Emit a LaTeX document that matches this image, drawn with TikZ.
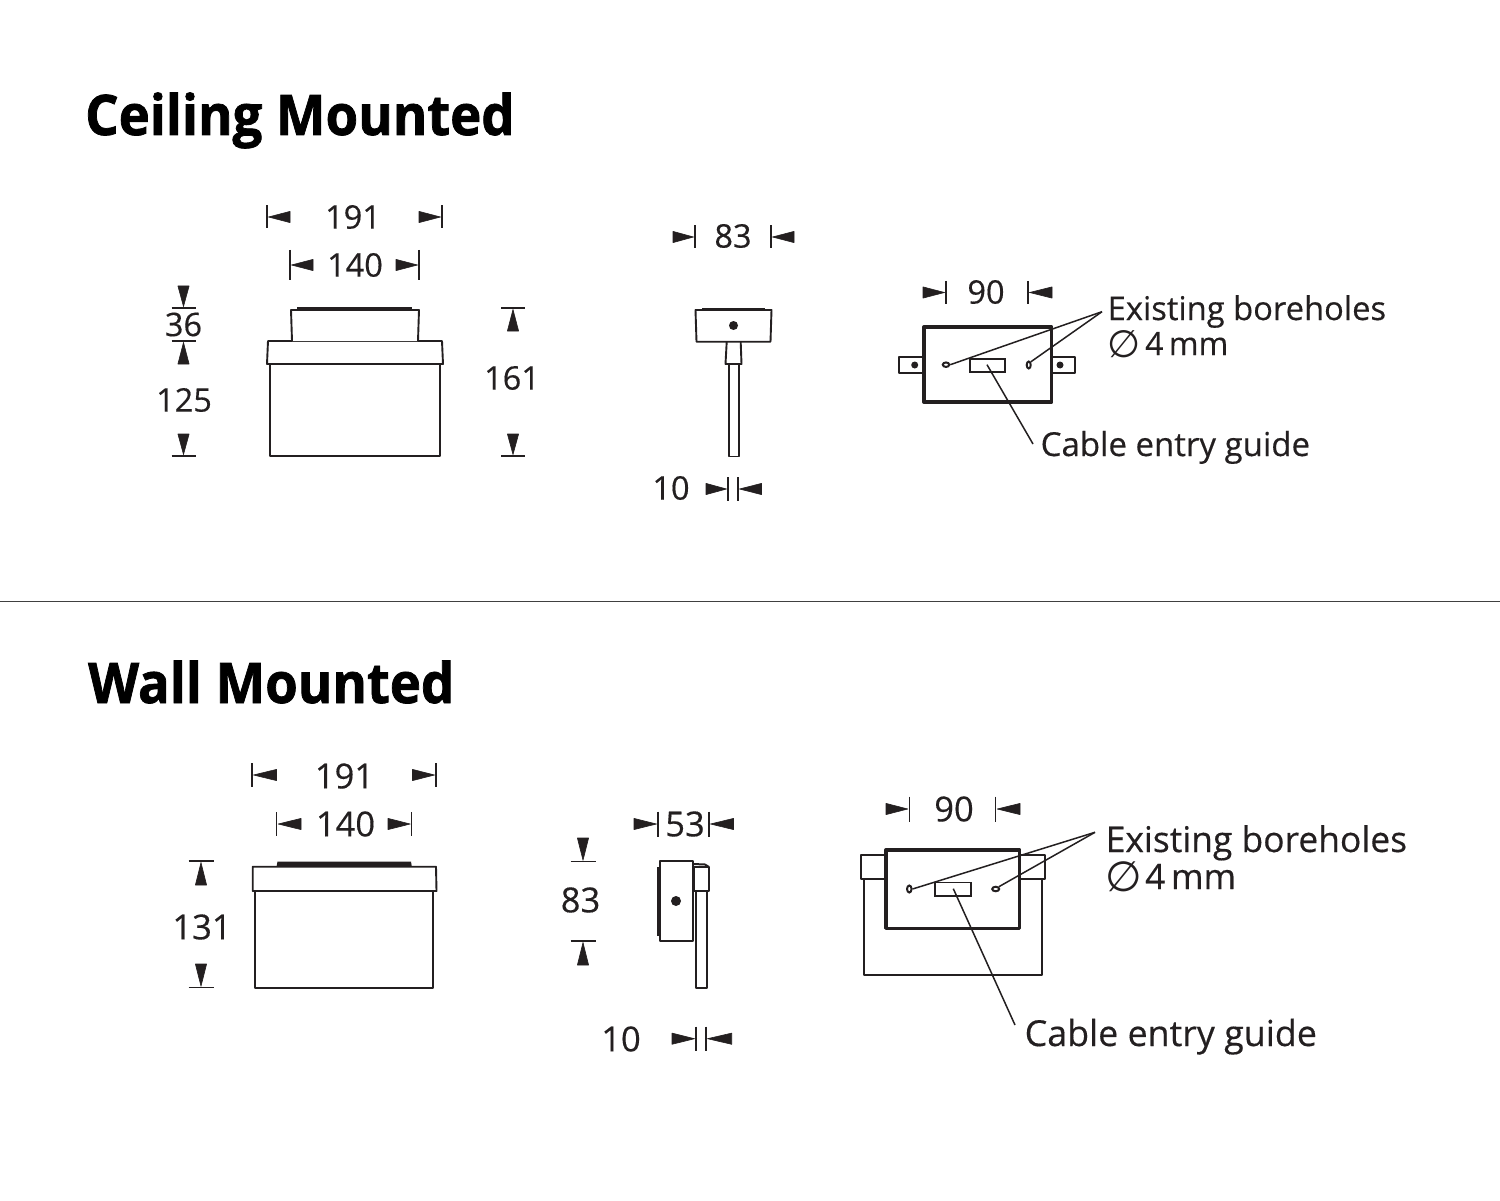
\documentclass[tikz,border=0pt]{standalone}
\usepackage{fontspec}
\usetikzlibrary{shapes.geometric}
\setmainfont{Open Sans}
\newfontfamily\symfont{DejaVu Sans}
\newfontfamily\labelfont[FakeBold=0.35]{Open Sans}
\newfontfamily\headfont[FakeBold=1.3,FakeStretch=0.94]{Open Sans}
\definecolor{ink}{HTML}{231F20}
\tikzset{
  x=1pt,y=-1pt,
  outline/.style={draw=ink,line width=1.9pt,line join=round,fill=white},
  heavy/.style={draw=ink,line width=3.4pt,line join=round,fill=white},
  tickline/.style={draw=ink,line width=1.5pt},
  leader/.style={draw=ink,line width=1.5pt},
  dimtip/.style={fill=ink,draw=ink,line width=0.6pt,line join=round},
  dimlabel/.style={text=ink,inner sep=0pt,font=\labelfont\fontsize{#1}{#1}\selectfont},
  note/.style={text=ink,inner sep=0pt,anchor=base west,font=\labelfont\fontsize{#1}{#1}\selectfont},
  symbol/.style={text=ink,inner sep=0pt,font=\symfont\fontsize{#1}{#1}\selectfont},
  heading/.style={text=black,inner sep=0pt,anchor=base west,font=\headfont\fontsize{56}{56}\selectfont\bfseries},
  blackdot/.style={circle,fill=ink,inner sep=0pt,minimum size=#1},
  hole/.style={ellipse,draw=ink,line width=2pt,inner sep=0pt,fill=white},
}
% name, xTick, xTail, y, half-height: tick line and solid triangle
\newcommand{\hdim}[5]{%
  \coordinate (#1a) at (#2,#4-#5); \coordinate (#1b) at (#2,#4+#5);
  \draw[tickline] (#1a) -- (#1b);
  \pgfmathsetmacro{\tipx}{#2+(#3>#2?1.5:-1.5)}
  \filldraw[dimtip] (\tipx,#4) -- (#3,#4-5.6) -- (#3,#4+5.6) -- cycle;}
% name, yTick, yTail, x, half-width
\newcommand{\vdim}[5]{%
  \coordinate (#1a) at (#4-#5,#2); \coordinate (#1b) at (#4+#5,#2);
  \draw[tickline] (#1a) -- (#1b);
  \pgfmathsetmacro{\tipy}{#2+(#3>#2?1.5:-1.5)}
  \filldraw[dimtip] (#4,\tipy) -- (#4-5.6,#3) -- (#4+5.6,#3) -- cycle;}
\begin{document}
\begin{tikzpicture}
\useasboundingbox (0,0) rectangle (1500,1201);
\fill[white] (0,0) rectangle (1500,1201);

% headings and separator
\node[heading] (t1) at (85,135) {Ceiling Mounted};
\node[heading] (t2) at (88,703) {Wall Mounted};
\coordinate (sepL) at (0,601.5); \coordinate (sepR) at (1500,601.5);
\draw[draw=black!75,line width=1.7pt] (sepL) -- (sepR);

% ---------- ceiling, front
\draw[outline] (270,364) rectangle (439.7,456);
\draw[outline] (268,341) -- (442,341) -- (443,364) -- (267,364) -- cycle;
\draw[outline] (292,341) -- (291,310) -- (419,310) -- (418,341);
\draw[draw=ink,line width=2.4pt] (297,308.5) -- (412,308.5);
\hdim{a}{267}{290}{217}{11.5}
\hdim{b}{442}{419}{217}{11.5}
\node[dimlabel=32.5] (l191a) at (353,217) {191};
\hdim{c}{290}{313}{265}{15}
\hdim{d}{419}{396}{265}{15}
\node[dimlabel=32.5] (l140a) at (355,265) {140};
\vdim{e}{308}{286}{183.5}{12}
\vdim{f}{341}{364}{183.5}{12}
\node[dimlabel=32.5] (l36) at (183.5,324.5) {36};
\node[dimlabel=32.5] (l125) at (184,400) {125};
\vdim{g}{456}{434}{183.5}{12}
\vdim{h}{308}{331}{513}{12}
\vdim{i}{456}{434}{513}{12}
\node[dimlabel=32.5] (l161) at (512,378) {161};

% ---------- ceiling, side
\draw[outline] (728.7,364) rectangle (738.7,456.5);
\draw[outline] (726.7,342) -- (725.5,364) -- (741.5,364) -- (740.7,342);
\draw[outline] (696.5,341.7) -- (695.5,310) -- (771.5,310) -- (770.5,341.7) -- cycle;
\draw[draw=ink,line width=2.2pt] (702,309) -- (765,309);
\node[blackdot=9pt] (d1) at (733.5,325.5) {};
\hdim{j}{695}{673}{237}{11.5}
\hdim{k}{771}{794}{237}{11.5}
\node[dimlabel=32.5] (l83a) at (733,236) {83};
\hdim{m}{728}{706}{489}{12}
\hdim{n}{738}{761.5}{489}{12}
\node[dimlabel=32.5] (l10a) at (671,488) {10};

% ---------- ceiling, back
\draw[outline] (899,357) rectangle (924,373);
\draw[outline] (1052,357) rectangle (1075,373);
\draw[heavy] (924,327) rectangle (1051.7,402);
\node[blackdot=7pt] (d2) at (914.7,365) {};
\node[blackdot=7pt] (d3) at (1060,365) {};
\draw[draw=ink,line width=1.6pt] (970,358.7) rectangle (1004.7,371.7);
\node[hole,minimum width=6.5pt,minimum height=4.5pt] (h1) at (946,364.7) {};
\node[hole,minimum width=4pt,minimum height=7pt] (h2) at (1028.7,365) {};
\coordinate (apex1) at (1102,311.7);
\draw[leader] (apex1) -- (h1.east);
\draw[leader] (apex1) -- (h2.north east);
\coordinate (slot1) at (987,364.7); \coordinate (end1) at (1033,444);
\draw[leader] (slot1) -- (end1);
\hdim{o}{946}{923}{292.5}{11.5}
\hdim{p}{1028}{1052}{292.5}{11.5}
\node[dimlabel=32.5] (l90a) at (986,292) {90};
\node[note=32.7] (n1) at (1107.5,320) {Existing boreholes};
\node[symbol=38] (o1) at (1124.5,344) {∅};
\node[note=32] (n2) at (1145,355) {4\,mm};
\node[note=33] (n3) at (1040.5,456) {Cable entry guide};

% ---------- wall, front
\draw[outline] (255.3,891) rectangle (433.3,988);
\fill[ink] (276.7,866) -- (277.5,861.5) -- (411,861.5) -- (411.7,866) -- cycle;
\draw[outline] (252.7,866.7) -- (436,866.7) -- (436.5,891) -- (252.7,891) -- cycle;
\hdim{q}{252}{276.5}{775}{12}
\hdim{r}{436}{412.5}{775}{12}
\node[dimlabel=34.5] (l191b) at (344.5,776) {191};
\hdim{s}{276.7}{301}{824}{12}
\hdim{u}{411.7}{388}{824}{12}
\node[dimlabel=34.5] (l140b) at (345.5,824) {140};
\vdim{v}{861}{885}{201}{12.5}
\vdim{w}{987.7}{964}{201}{12.5}
\node[dimlabel=34.5] (l131) at (202,927) {131};

% ---------- wall, side
\draw[outline] (696,890.7) rectangle (706.7,988);
\draw[outline] (694,866.7) rectangle (709,890.7);
\draw[draw=ink,line width=2pt] (693,864) -- (705,864.5) -- (709,867);
\draw[outline] (660,861) rectangle (693,941);
\draw[draw=ink,line width=1.4pt] (660,868) -- (658,868) -- (658,935) -- (660,935);
\node[blackdot=10pt] (d4) at (676,901) {};
\hdim{x}{658}{634}{824}{12.5}
\hdim{y}{709}{733.5}{824}{12.5}
\node[dimlabel=34.5] (l53) at (685,824) {53};
\vdim{z}{861.7}{838}{583}{12.5}
\vdim{aa}{941}{965}{583}{12.5}
\node[dimlabel=34.5] (l83b) at (580.5,900) {83};
\hdim{ab}{696}{672}{1038.7}{12}
\hdim{ac}{706}{731.7}{1038.7}{12}
\node[dimlabel=34.5] (l10b) at (621,1039) {10};

% ---------- wall, back
\draw[outline] (863.7,879) rectangle (1042,975.3);
\draw[outline] (860.7,855) rectangle (886,879);
\draw[outline] (1020,855) rectangle (1045,879);
\draw[heavy] (886,850) rectangle (1019.7,928.3);
\draw[draw=ink,line width=1.4pt] (949,851.5) -- (957,851.5);
\draw[draw=ink,line width=1.6pt] (934.7,882.3) rectangle (971,895.7);
\node[hole,minimum width=4.5pt,minimum height=7pt] (h3) at (909.3,889) {};
\node[hole,minimum width=7pt,minimum height=4.5pt] (h4) at (995.7,889) {};
\coordinate (apex2) at (1095,832.3);
\draw[leader] (apex2) -- (h3.east);
\draw[leader] (apex2) -- (h4.north east);
\coordinate (slot2) at (953.3,888.7); \coordinate (end2) at (1015,1025);
\draw[leader] (slot2) -- (end2);
\hdim{ad}{909.3}{886}{809}{12.5}
\hdim{ae}{995.7}{1020}{809}{12.5}
\node[dimlabel=34.5] (l90b) at (954,809) {90};
\node[note=35.4] (n4) at (1105.5,852) {Existing boreholes};
\node[symbol=42] (o2) at (1124,877) {∅};
\node[note=35] (n5) at (1145,889) {4\,mm};
\node[note=35.8] (n6) at (1024.5,1046) {Cable entry guide};
\end{tikzpicture}
\end{document}
